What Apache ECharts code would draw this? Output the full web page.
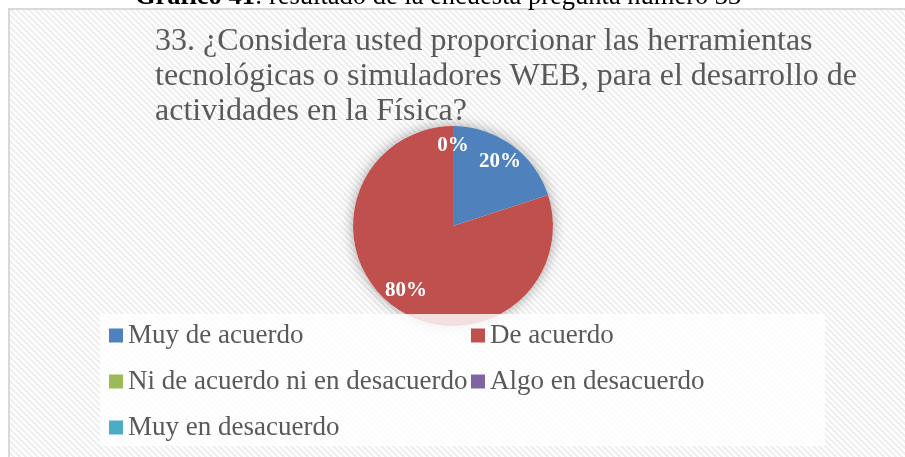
<!DOCTYPE html>
<html>
<head>
<meta charset="utf-8">
<script src="https://cdn.jsdelivr.net/npm/echarts@6/dist/echarts.min.js"></script>
<style>
  html, body { margin: 0; padding: 0; background: #ffffff; }
  #chart { width: 905px; height: 457px; }
</style>
</head>
<body>
<div id="chart"></div>
<script>
// Survey answers for question 33
const categories = [
  'Muy de acuerdo',
  'De acuerdo',
  'Ni de acuerdo ni en desacuerdo',
  'Algo en desacuerdo',
  'Muy en desacuerdo'
];
const values = [20, 80, 0, 0, 0];
const colors = ['#4F81BD', '#C0504D', '#9BBB59', '#8064A2', '#4BACC6'];
const legendLeftColumn = ['Muy de acuerdo', 'Ni de acuerdo ni en desacuerdo', 'Muy en desacuerdo'];
const legendRightColumn = ['De acuerdo', 'Algo en desacuerdo'];
const titleText = '33. ¿Considera usted proporcionar las herramientas\ntecnológicas o simuladores WEB, para el desarrollo de\nactividades en la Física?';
const captionBold = 'Gráfico 41';
const captionRest = ': resultado de la encuesta pregunta número 33';

const SERIF = "'Liberation Serif', 'Times New Roman', serif";

// light diagonal hatch used as the chart area fill
function makeHatch() {
  const P = 6;
  const c = document.createElement('canvas');
  c.width = P; c.height = P;
  const ctx = c.getContext('2d');
  ctx.fillStyle = '#ffffff';
  ctx.fillRect(0, 0, P, P);
  ctx.fillStyle = '#efefef';
  for (let x = 0; x < P; x++) {
    for (let y = 0; y < P; y++) {
      const k = (((x - y) % P) + P) % P;
      if (k < P / 2) ctx.fillRect(x, y, 1, 1);
    }
  }
  return c;
}

const pieData = categories.map((name, i) => ({
  name: name,
  value: values[i],
  itemStyle: { color: colors[i] }
}));
const total = values.reduce((a, b) => a + b, 0);
const center = [453, 226];

const chart = echarts.init(document.getElementById('chart'), null, { renderer: 'canvas' });

const legendCommon = {
  orient: 'vertical',
  icon: 'rect',
  itemWidth: 14,
  itemHeight: 14,
  itemGap: 19,
  padding: 0,
  z: 5,
  selectedMode: false,
  itemStyle: { borderWidth: 0, shadowBlur: 0, shadowColor: 'transparent' },
  textStyle: { fontFamily: SERIF, fontSize: 27, color: '#595959', padding: [0, 0, 0, 0] }
};

chart.setOption({
  animation: false,
  color: colors,
  title: {
    text: titleText,
    left: 155,
    top: 24,
    padding: 0,
    textStyle: {
      fontFamily: SERIF,
      fontSize: 32,
      fontWeight: 'normal',
      color: '#595959',
      lineHeight: 35
    }
  },
  legend: [
    Object.assign({}, legendCommon, { left: 109, top: 322, data: legendLeftColumn }),
    Object.assign({}, legendCommon, { left: 471, top: 322, data: legendRightColumn })
  ],
  graphic: [
    {
      type: 'rect',
      z: -10,
      silent: true,
      shape: { x: 9, y: 9, width: 910, height: 460 },
      style: {
        fill: { image: makeHatch(), repeat: 'repeat' },
        stroke: '#d9d9d9',
        lineWidth: 2
      }
    },
    {
      type: 'rect',
      z: 3,
      silent: true,
      shape: { x: 100, y: 314, width: 725, height: 132 },
      style: { fill: 'rgba(255,255,255,0.82)' }
    },
    {
      type: 'text',
      z: 3,
      silent: true,
      x: 135,
      y: 11,
      style: {
        text: '{b|' + captionBold + '}{r|' + captionRest + '}',
        verticalAlign: 'bottom',
        fill: '#000000',
        rich: {
          b: { fontFamily: SERIF, fontSize: 26.5, fontWeight: 'bold', fill: '#000000' },
          r: { fontFamily: SERIF, fontSize: 26.5, fill: '#000000' }
        }
      }
    }
  ],
  series: [
    {
      // soft shadow behind the whole pie
      type: 'pie',
      name: 'sombra',
      center: center,
      radius: 100,
      silent: true,
      z: 1,
      label: { show: false },
      labelLine: { show: false },
      emphasis: { disabled: true },
      data: [{ name: 'total', value: total, itemStyle: { color: '#ffffff', shadowBlur: 14, shadowColor: 'rgba(0,0,0,0.35)' } }]
    },
    {
      type: 'pie',
      name: 'Respuestas',
      center: center,
      radius: 100,
      startAngle: 90,
      clockwise: true,
      z: 2,
      label: { show: false },
      labelLine: { show: false },
      emphasis: { disabled: true },
      itemStyle: { borderWidth: 0 },
      data: pieData
    },
    {
      // percentage labels placed toward the rim
      type: 'pie',
      name: 'Etiquetas',
      center: center,
      radius: [54, 100],
      startAngle: 90,
      clockwise: true,
      silent: true,
      z: 2,
      emphasis: { disabled: true },
      itemStyle: { color: 'rgba(0,0,0,0)', borderWidth: 0 },
      labelLine: { show: false },
      label: {
        show: true,
        position: 'inside',
        formatter: p => Math.round(p.percent) + '%',
        fontFamily: SERIF,
        fontSize: 21,
        fontWeight: 'bold',
        color: '#ffffff'
      },
      data: categories.map((name, i) => ({ name: name, value: values[i] }))
    }
  ]
});
</script>
</body>
</html>
